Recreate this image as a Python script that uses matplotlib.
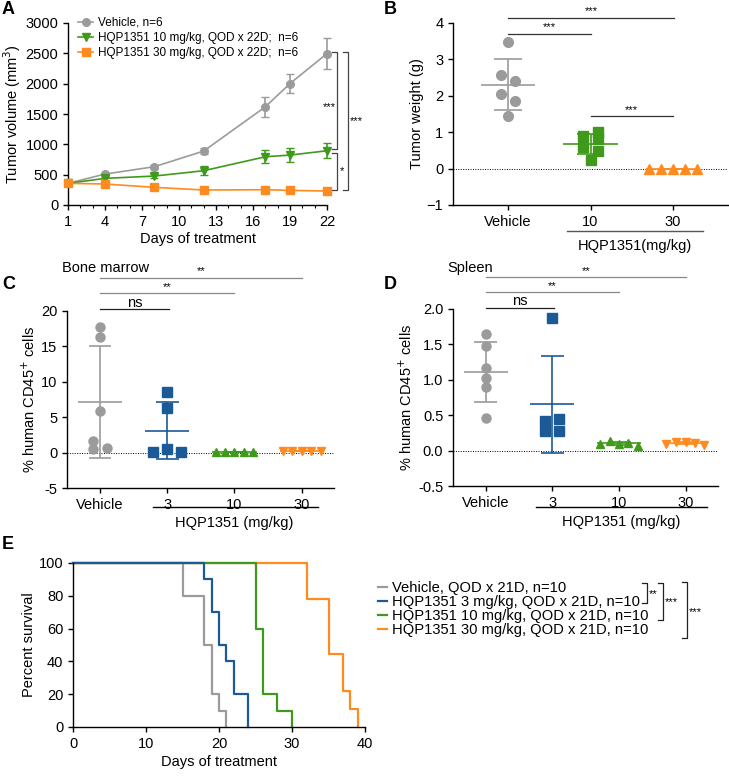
import numpy as np
import matplotlib
matplotlib.use("Agg")
import matplotlib.pyplot as plt
from matplotlib.lines import Line2D

plt.rcParams['font.family'] = ['Liberation Sans', 'DejaVu Sans']
plt.rcParams['axes.linewidth'] = 1.0
plt.rcParams['xtick.major.width'] = 1.0
plt.rcParams['ytick.major.width'] = 1.0
plt.rcParams['xtick.major.size'] = 3.5
plt.rcParams['ytick.major.size'] = 3.5
plt.rcParams['xtick.labelsize'] = 10.5
plt.rcParams['ytick.labelsize'] = 10.5

GRAY = '#9b9b9b'
GREEN = '#3f9a1c'
ORANGE = '#ff8a1f'
BLUE = '#1b5a97'

# ---- A: tumor volume
days = [1, 4, 8, 12, 17, 19, 22]
veh_vol = [357, 510, 631, 889, 1618, 2002, 2496]
veh_err = [20, 25, 30, 45, 165, 160, 257]
d10_vol = [357, 439, 477, 565, 795, 823, 894]
d10_err = [20, 25, 30, 70, 110, 118, 123]
d30_vol = [357, 346, 291, 247, 252, 241, 230]
d30_err = [15, 15, 15, 15, 15, 15, 15]

# ---- B: tumor weight
b_groups = ['Vehicle', '10', '30']
b_veh = [3.48, 2.58, 2.40, 2.04, 1.85, 1.45]
b_veh_dx = [0, -0.085, 0.085, -0.085, 0.085, 0]
b_10 = [0.89, 1.00, 0.80, 0.58, 0.49, 0.25]
b_10_dx = [-0.09, 0.09, 0.09, -0.09, 0.09, 0]
b_30 = [0, 0, 0, 0, 0]
b_30_dx = [-0.29, -0.145, 0, 0.145, 0.29]

# ---- C: bone marrow
cd_groups = ['Vehicle', '3', '10', '30']
c_veh = [17.7, 16.3, 5.9, 1.6, 0.5, 0.6]
c_veh_dx = [0, 0, 0, -0.1, -0.1, 0.11]
c_3 = [8.5, 6.3, 0.45, 0.05, 0.15]
c_3_dx = [0, 0, 0, -0.21, 0.21]
c_10 = [0.05, 0.05, 0.05, 0.05, 0.05]
c_10_dx = [-0.28, -0.14, 0, 0.14, 0.28]
c_30 = [0.25, 0.25, 0.25, 0.25, 0.25]
c_30_dx = [-0.28, -0.14, 0, 0.14, 0.28]

# ---- D: spleen
d_veh = [1.645, 1.475, 1.16, 1.03, 0.90, 0.46]
d_veh_dx = [0, 0, 0, 0, 0, 0]
d_3 = [1.87, 0.42, 0.44, 0.27, 0.28]
d_3_dx = [0, -0.105, 0.105, -0.105, 0.105]
d_10 = [0.10, 0.13, 0.10, 0.11, 0.07]
d_10_dx = [-0.285, -0.135, 0, 0.135, 0.285]
d_30 = [0.10, 0.12, 0.12, 0.11, 0.08]
d_30_dx = [-0.3, -0.15, 0, 0.135, 0.27]

# ---- E: survival
surv_labels = ['Vehicle, QOD x 21D, n=10',
               'HQP1351 3 mg/kg, QOD x 21D, n=10',
               'HQP1351 10 mg/kg, QOD x 21D, n=10',
               'HQP1351 30 mg/kg, QOD x 21D, n=10']
t_veh = [0, 15, 18, 19, 20, 21]
s_veh = [100, 80, 50, 20, 10, 0]
t_3 = [0, 18, 19, 20, 21, 22, 24]
s_3 = [100, 90, 70, 50, 40, 20, 0]
t_10 = [0, 25, 26, 28, 30]
s_10 = [100, 60, 20, 10, 0]
t_30 = [0, 32, 35, 37, 38, 39]
s_30 = [100, 77.8, 44.4, 22.2, 11.1, 0]

W, H = 729, 776
fig = plt.figure(figsize=(W / 100, H / 100), dpi=100)


def rect(l, t, r, b):
    return [l / W, 1 - b / H, (r - l) / W, (b - t) / H]


def fx(x):
    return x / W


def fy(y):
    return 1 - y / H


def style(ax):
    for s in ['top', 'right']:
        ax.spines[s].set_visible(False)
    ax.tick_params(direction='out')


def dots(ax, i, vals, dx, color, marker, ms=6.5):
    ax.plot(np.array(dx) + i, vals, ls='none', marker=marker, color=color,
            ms=ms, mec=color, clip_on=False, zorder=3)
    m = np.mean(vals)
    s = np.std(vals, ddof=1)
    ax.hlines(m, i - 0.33, i + 0.33, color=color, lw=1.2, zorder=2)
    ax.hlines([m - s, m + s], i - 0.17, i + 0.17, color=color, lw=1.2, zorder=2)
    ax.vlines(i, m - s, m + s, color=color, lw=1.2, zorder=2)


def sig(ax, x0, x1, y, txt, color='#333333', fs=8, dy=0):
    ax.plot([x0, x1], [y, y], color=color, lw=0.9, clip_on=False)
    ax.annotate(txt, (0.5 * (x0 + x1), y), xytext=(0, 1 + dy), textcoords='offset points',
                ha='center', va='bottom', fontsize=fs, annotation_clip=False)


def panel(x, y, s):
    fig.text(fx(x), fy(y), s, fontsize=13, fontweight='bold', ha='left', va='top')


# ================= A
axA = fig.add_axes(rect(68, 23, 327, 205))
style(axA)
axA.errorbar(days, veh_vol, yerr=veh_err, color=GRAY, marker='o', ms=5.5, lw=1.2,
             capsize=3, elinewidth=1.2, label='Vehicle, n=6', clip_on=False, zorder=3)
axA.errorbar(days, d10_vol, yerr=d10_err, color=GREEN, marker='v', ms=5.5, lw=1.2,
             capsize=3, elinewidth=1.2, label='HQP1351 10 mg/kg, QOD x 22D;  n=6',
             clip_on=False, zorder=3)
axA.errorbar(days, d30_vol, yerr=d30_err, color=ORANGE, marker='s', ms=5.5, lw=1.2,
             capsize=3, elinewidth=1.2, label='HQP1351 30 mg/kg, QOD x 22D;  n=6',
             clip_on=False, zorder=3)
axA.set_xlim(1, 22)
axA.set_ylim(0, 3000)
axA.set_xticks(range(1, 23, 3))
axA.set_xticks(range(1, 23), minor=True)
axA.tick_params(which='minor', length=2, width=0.8)
axA.set_yticks(range(0, 3001, 500))
axA.set_xlabel('Days of treatment', fontsize=10.5, labelpad=2)
axA.set_ylabel('Tumor volume (mm$^3$)', fontsize=10.5, labelpad=2)
handles, labels = axA.get_legend_handles_labels()
handles = [h[0] for h in handles]
axA.legend(handles, labels, loc='upper left', bbox_to_anchor=(0.02, 1.06), frameon=False,
           fontsize=8.5, handlelength=1.3, handletextpad=0.4, labelspacing=0.25,
           borderaxespad=0)
# brackets
for (x, y0, y1) in [(22.8, 2520, 930), (22.8, 850, 240), (23.7, 2520, 240)]:
    axA.plot([x - 0.4, x, x, x - 0.4], [y0, y0, y1, y1], color='#444444', lw=0.9,
             clip_on=False)
axA.text(22.72, 1620, '***', ha='right', va='center', fontsize=8, clip_on=False)
axA.text(23.0, 560, '*', ha='left', va='center', fontsize=8, clip_on=False)
axA.text(23.85, 1390, '***', ha='left', va='center', fontsize=8, clip_on=False)
panel(2, 1, 'A')

# ================= B
axB = fig.add_axes(rect(453, 23, 728, 205))
style(axB)
axB.axhline(0, color='k', lw=0.7, ls=(0, (1, 1.5)), zorder=1)
dots(axB, 0, b_veh, b_veh_dx, GRAY, 'o', ms=7)
dots(axB, 1, b_10, b_10_dx, GREEN, 's', ms=7)
dots(axB, 2, b_30, b_30_dx, ORANGE, '^', ms=6.5)
axB.set_xlim(-0.67, 2.67)
axB.set_ylim(-1, 4)
axB.set_yticks(range(-1, 5))
axB.set_xticks(range(3))
axB.set_xticklabels(b_groups)
axB.set_ylabel('Tumor weight (g)', fontsize=10.5, labelpad=2)
sig(axB, 0, 2.02, 4.14, '***')
sig(axB, 0, 1, 3.70, '***')
sig(axB, 1, 2, 1.44, '***')
axB.plot([0.71, 2.37], [-1.71, -1.71], color='#555555', lw=1.0, clip_on=False)
axB.text(1.54, -2.12, 'HQP1351(mg/kg)', ha='center', va='center', fontsize=10.5)
panel(384, 1, 'B')


# ================= C, D
def cd_axes(r, ylim, yticks, fmt):
    ax = fig.add_axes(r)
    style(ax)
    ax.axhline(0, color='k', lw=0.7, ls=(0, (1, 1.5)), zorder=1)
    ax.set_xlim(-0.49, 3.48)
    ax.set_ylim(*ylim)
    ax.set_yticks(yticks)
    ax.set_yticklabels([fmt % v for v in yticks])
    ax.set_xticks(range(4))
    ax.set_xticklabels(cd_groups)
    ax.set_ylabel('% human CD45$^{+}$ cells', fontsize=10.5, labelpad=2)
    return ax


axC = cd_axes(rect(67, 311, 334, 488), (-5, 20), [-5, 0, 5, 10, 15, 20], '%d')
dots(axC, 0, c_veh, c_veh_dx, GRAY, 'o')
dots(axC, 1, c_3, c_3_dx, BLUE, 's')
dots(axC, 2, c_10, c_10_dx, GREEN, '^', ms=6)
dots(axC, 3, c_30, c_30_dx, ORANGE, 'v', ms=6)
sig(axC, 0, 1.03, 20.3, 'ns', color='#222222', fs=10.5, dy=-1.5)
sig(axC, 0, 2, 22.5, '**', color='#888888')
sig(axC, 0, 3, 24.7, '**', color='#888888')
axC.text(-0.56, 26.1, 'Bone marrow', ha='left', va='center', fontsize=10.5)
axC.plot([0.79, 3.24], [-7.68, -7.68], color='k', lw=1.0, clip_on=False)
axC.text(2.0, -9.9, 'HQP1351 (mg/kg)', ha='center', va='center', fontsize=10.5)
panel(2, 276, 'C')

axD = cd_axes(rect(453, 309, 718, 486), (-0.5, 2.0), [-0.5, 0, 0.5, 1.0, 1.5, 2.0], '%.1f')
dots(axD, 0, d_veh, d_veh_dx, GRAY, 'o')
dots(axD, 1, d_3, d_3_dx, BLUE, 's')
dots(axD, 2, d_10, d_10_dx, GREEN, '^', ms=6)
dots(axD, 3, d_30, d_30_dx, ORANGE, 'v', ms=6)
sig(axD, 0, 1.03, 2.02, 'ns', color='#222222', fs=10.5, dy=-1.5)
sig(axD, 0, 2, 2.24, '**', color='#888888')
sig(axD, 0, 3, 2.45, '**', color='#888888')
axD.text(-0.58, 2.58, 'Spleen', ha='left', va='center', fontsize=10.5)
axD.plot([0.75, 3.31], [-0.80, -0.80], color='k', lw=1.0, clip_on=False)
axD.text(2.03, -1.01, 'HQP1351 (mg/kg)', ha='center', va='center', fontsize=10.5)
panel(384, 276, 'D')

# ================= E
axE = fig.add_axes(rect(73, 563, 365, 727))
style(axE)
curves = [(t_30, s_30, ORANGE, 3), (t_10, s_10, GREEN, 2), (t_veh, s_veh, GRAY, 0),
          (t_3, s_3, BLUE, 1)]
lines = {}
for t, s, c, k in curves:
    ln, = axE.step(t, s, where='post', color=c, lw=1.6, clip_on=False)
    lines[k] = ln
axE.set_xlim(0, 40)
axE.set_ylim(0, 100)
axE.set_xticks(range(0, 41, 10))
axE.set_yticks(range(0, 101, 20))
axE.set_xlabel('Days of treatment', fontsize=10.5, labelpad=3)
axE.set_ylabel('Percent survival', fontsize=10.5, labelpad=2)
fig.legend([lines[k] for k in range(4)], surv_labels, loc='upper left',
           bbox_to_anchor=(fx(378), fy(581)), frameon=False, fontsize=10.6,
           handlelength=0.6, handletextpad=0.35, labelspacing=0.0, borderaxespad=0,
           borderpad=0)
for (x, y0, y1) in [(647, 583, 603), (663, 583, 620), (687, 582, 638)]:
    fig.add_artist(Line2D([fx(x - 5), fx(x), fx(x), fx(x - 5)],
                          [fy(y0), fy(y0), fy(y1), fy(y1)], color='#222222', lw=0.9))
fig.text(fx(649), fy(594), '**', ha='left', va='center', fontsize=8)
fig.text(fx(665), fy(602), '***', ha='left', va='center', fontsize=8)
fig.text(fx(689), fy(612), '***', ha='left', va='center', fontsize=8)
panel(2, 536, 'E')

fig.savefig('out.png', dpi=100)
